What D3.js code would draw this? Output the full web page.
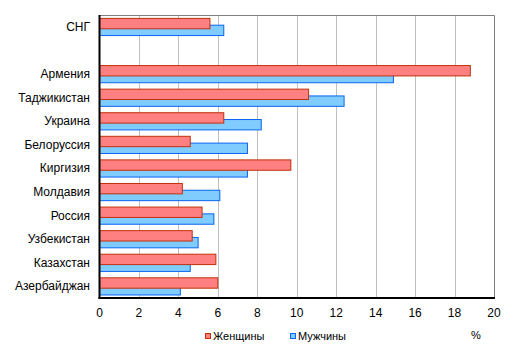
<!DOCTYPE html>
<html><head><meta charset="utf-8">
<script src="https://cdn.jsdelivr.net/npm/d3@7"></script>
<style>body{margin:0;background:#fff}svg{display:block;font-family:"Liberation Sans",Arial,sans-serif}</style>
</head><body><svg id="c" width="517" height="353"></svg>
<script>
const categories = ["СНГ", "", "Армения", "Таджикистан", "Украина", "Белоруссия", "Киргизия", "Молдавия", "Россия", "Узбекистан", "Казахстан", "Азербайджан"];
const women = [5.6, null, 18.8, 10.6, 6.3, 4.6, 9.7, 4.2, 5.2, 4.7, 5.9, 6.0];
const men   = [6.3, null, 14.9, 12.4, 8.2, 7.5, 7.5, 6.1, 5.8, 5.0, 4.6, 4.1];
const xTicks = [0, 2, 4, 6, 8, 10, 12, 14, 16, 18, 20];
const seriesNames = ["Женщины", "Мужчины"];

const svg = d3.select("#c");
const L = 99.5, R = 494, T = 15, B = 298;
const x = d3.scaleLinear().domain([0, 20]).range([L, R]);
const y = d3.scaleBand().domain(d3.range(categories.length)).range([T, B]);
const bw = y.bandwidth();
const h = bw * 0.44;

// gridlines
svg.append("g").selectAll("line").data(xTicks.slice(1, -1)).join("line")
  .attr("x1", d => Math.round(x(d)) + 0.5).attr("x2", d => Math.round(x(d)) + 0.5)
  .attr("y1", T).attr("y2", B).attr("stroke", "#c0c0c0").attr("stroke-width", 1);
// frame top/right
svg.append("path").attr("d", `M${L},${T+0.5}H${R+0.5}V${B}`).attr("fill", "none").attr("stroke", "#808080");

const cx = i => y(i) + bw / 2;
// men bars (behind)
svg.append("g").selectAll("rect").data(men.map((v, i) => ({v, i})).filter(d => d.v != null)).join("rect")
  .attr("x", x(0)).attr("y", d => cx(d.i) - 1.6).attr("width", d => x(d.v) - x(0)).attr("height", h)
  .attr("fill", "#80ccff").attr("stroke", "#0a64f0").attr("stroke-width", 1);
// women bars
svg.append("g").selectAll("rect").data(women.map((v, i) => ({v, i})).filter(d => d.v != null)).join("rect")
  .attr("x", x(0)).attr("y", d => cx(d.i) - 8.4).attr("width", d => x(d.v) - x(0)).attr("height", h)
  .attr("fill", "#ff8080").attr("stroke", "#c0300c").attr("stroke-width", 1);

// axes lines
svg.append("line").attr("x1", L).attr("x2", L).attr("y1", T).attr("y2", B + 1).attr("stroke", "#000").attr("stroke-width", 2);
svg.append("line").attr("x1", L - 1).attr("x2", R + 1).attr("y1", B).attr("y2", B).attr("stroke", "#000").attr("stroke-width", 2);

// category labels
svg.append("g").selectAll("text").data(categories).join("text")
  .attr("x", 90).attr("y", (d, i) => cx(i)).attr("dy", "0.35em").attr("text-anchor", "end")
  .attr("font-size", 12).attr("fill", "#000").text(d => d);

// x tick labels
svg.append("g").selectAll("text").data(xTicks).join("text")
  .attr("x", d => x(d)).attr("y", 317).attr("text-anchor", "middle")
  .attr("font-size", 12).attr("fill", "#000").text(d => d);

// legend
const leg = [{n: seriesNames[0], f: "#ff8080", s: "#c0300c", x: 205}, {n: seriesNames[1], f: "#80ccff", s: "#0a64f0", x: 290}];
leg.forEach(l => {
  svg.append("rect").attr("x", l.x + 0.5).attr("y", 333.5).attr("width", 5).attr("height", 5).attr("fill", l.f).attr("stroke", l.s);
  svg.append("text").attr("x", l.x + 8).attr("y", 340).attr("font-size", 11).attr("fill", "#000").text(l.n);
});
svg.append("text").attr("x", 471).attr("y", 339).attr("font-size", 11).attr("fill", "#000").text("%");
</script></body></html>
